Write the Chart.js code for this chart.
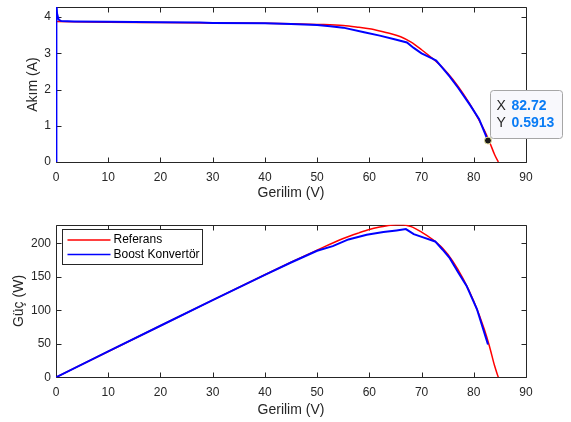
<!DOCTYPE html>
<html>
<head>
<meta charset="utf-8">
<title>PV karakteristik</title>
<script src="https://cdn.jsdelivr.net/npm/chart.js@4/dist/chart.umd.min.js"></script>
<style>
  html, body { margin: 0; padding: 0; background: #fff; }
  #wrap { position: relative; width: 571px; height: 422px; }
  canvas { position: absolute; left: 0; }
</style>
</head>
<body>
<div id="wrap">
  <canvas id="ivchart" width="571" height="211" style="top:0"></canvas>
  <canvas id="pvchart" width="571" height="211" style="top:211px"></canvas>
</div>
<script>
// reference (model) curve
const refVolt = [0, 10, 20, 30, 40, 45, 50, 55, 58, 60, 62, 64, 66, 68, 70, 72, 74, 76, 78, 80, 82, 83, 84, 84.7];
const refAmp  = [3.88, 3.86, 3.85, 3.84, 3.83, 3.82, 3.80, 3.77, 3.72, 3.68, 3.62, 3.55, 3.46, 3.31, 3.10, 2.87, 2.61, 2.28, 1.88, 1.42, 0.88, 0.56, 0.20, 0];
const refPow  = [0, 38.6, 77, 115.2, 153.2, 171.9, 190, 207.4, 215.8, 220.8, 224.4, 227.2, 228.4, 225.1, 217, 206.6, 193.1, 173.3, 146.6, 113.6, 72.2, 46.5, 16.8, 0];

// boost converter measurement
const boostVolt = [0, 0.05, 0.1, 0.2, 0.5, 1, 3.5, 10, 20, 27.5, 30, 40, 45, 50, 52.5, 55, 59, 62, 65, 67.2, 68.5, 70, 72, 72.8, 74, 75.4, 77, 79.3, 81, 82.72];
const boostAmp  = [0, 2.0, 4.4, 4.1, 3.93, 3.89, 3.88, 3.87, 3.86, 3.85, 3.84, 3.83, 3.81, 3.78, 3.75, 3.71, 3.58, 3.49, 3.38, 3.30, 3.15, 3.00, 2.86, 2.80, 2.60, 2.36, 2.05, 1.57, 1.19, 0.5913];
const boostPVolt = [0, 10, 20, 30, 40, 45, 50, 53, 56, 59.5, 62.7, 65.2, 67, 68.5, 70.3, 72.6, 74, 75.4, 77, 78.6, 80.6, 82.72];
const boostPow   = [0, 38.6, 77, 115.3, 153, 171.5, 189, 196, 206, 213, 217, 219.5, 221.5, 214, 209, 203, 191, 178, 157, 137, 102, 48.9];

const voltTicks = [0, 10, 20, 30, 40, 50, 60, 70, 80, 90];
const ampTicks = [0, 1, 2, 3, 4];
const powTicks = [0, 50, 100, 150, 200];

const tipVolt = 82.72;
const tipAmp = 0.5913;

const FONT = "'Liberation Sans', Arial, Helvetica, sans-serif";
const AX = '#262626';

function xy(xs, ys) {
  return xs.map((x, i) => ({ x: x, y: ys[i] }));
}

// box around the axes with inward ticks on all four sides
const boxAxes = {
  id: 'boxAxes',
  beforeDatasetsDraw(chart) {
    const { ctx, chartArea: a, scales: { x, y } } = chart;
    const L = Math.round(a.left) + 0.5, R = Math.round(a.right) + 0.5;
    const T = Math.round(a.top) + 0.5, B = Math.round(a.bottom) + 0.5;
    ctx.save();
    ctx.strokeStyle = AX;
    ctx.lineWidth = 1;
    ctx.beginPath();
    x.ticks.forEach(t => {
      const p = Math.round(x.getPixelForValue(t.value)) + 0.5;
      ctx.moveTo(p, B); ctx.lineTo(p, B - 5);
      ctx.moveTo(p, T); ctx.lineTo(p, T + 5);
    });
    y.ticks.forEach(t => {
      const p = Math.round(y.getPixelForValue(t.value)) + 0.5;
      ctx.moveTo(L, p); ctx.lineTo(L + 5, p);
      ctx.moveTo(R, p); ctx.lineTo(R - 5, p);
    });
    ctx.rect(L, T, R - L, B - T);
    ctx.stroke();
    ctx.restore();
  }
};

// data tip on the I-V curve
const dataTip = {
  id: 'dataTip',
  afterDraw(chart) {
    const { ctx, scales: { x, y } } = chart;
    const px = x.getPixelForValue(tipVolt);
    const py = y.getPixelForValue(tipAmp);
    const bx = Math.round(px + 2) + 0.5, by = Math.round(py - 51) + 0.5;
    const bw = 72, bh = 48;
    ctx.save();
    ctx.fillStyle = '#f8f8fc';
    ctx.strokeStyle = '#a6a6a6';
    ctx.lineWidth = 1;
    ctx.beginPath();
    ctx.roundRect(bx, by, bw, bh, 3);
    ctx.fill();
    ctx.stroke();
    ctx.textBaseline = 'middle';
    ctx.textAlign = 'left';
    ctx.font = '14px ' + FONT;
    ctx.fillStyle = AX;
    ctx.fillText('X', bx + 6, by + 16);
    ctx.fillText('Y', bx + 6, by + 33);
    ctx.font = 'bold 14px ' + FONT;
    ctx.fillStyle = '#0a7cf5';
    ctx.fillText(tipVolt.toFixed(2), bx + 21, by + 16);
    ctx.fillText(tipAmp.toFixed(4), bx + 21, by + 33);
    ctx.beginPath();
    ctx.arc(px, py, 3.5, 0, Math.PI * 2);
    ctx.fillStyle = '#1a1a1a';
    ctx.fill();
    ctx.strokeStyle = '#e8e4a0';
    ctx.stroke();
    ctx.restore();
  }
};

// legend box in the upper-left corner of the power plot
const boxLegend = {
  id: 'boxLegend',
  afterDraw(chart) {
    const { ctx, chartArea: a } = chart;
    const bx = Math.round(a.left + 6) + 0.5, by = Math.round(a.top + 4) + 0.5;
    const items = chart.data.datasets.slice().sort((p, q) => q.order - p.order);
    ctx.save();
    ctx.fillStyle = '#fff';
    ctx.strokeStyle = AX;
    ctx.lineWidth = 1;
    ctx.fillRect(bx, by, 140, 35);
    ctx.strokeRect(bx, by, 140, 35);
    ctx.font = '12px ' + FONT;
    ctx.textBaseline = 'middle';
    items.forEach((ds, i) => {
      const ly = by + 10.5 + i * 14.5;
      ctx.strokeStyle = ds.borderColor;
      ctx.lineWidth = 1.5;
      ctx.beginPath();
      ctx.moveTo(bx + 5, ly); ctx.lineTo(bx + 48, ly);
      ctx.stroke();
      ctx.fillStyle = '#000';
      ctx.fillText(ds.label, bx + 51, ly);
    });
    ctx.restore();
  }
};

function makeScales(yTicks, yMax, yTitle, yTitlePad, xHeight, xTitlePad) {
  return {
    x: {
      type: 'linear', min: 0, max: 90,
      grid: { display: false, drawTicks: false },
      border: { display: false },
      afterBuildTicks: s => { s.ticks = voltTicks.map(v => ({ value: v })); },
      afterFit: s => { s.height = xHeight; s.paddingLeft = 0; s.paddingRight = 0; },
      ticks: { color: AX, font: { family: FONT, size: 12 }, padding: 8, maxRotation: 0 },
      title: { display: true, text: 'Gerilim (V)', color: AX, font: { family: FONT, size: 14 }, padding: { top: 0, bottom: xTitlePad } }
    },
    y: {
      type: 'linear', min: 0, max: yMax,
      grid: { display: false, drawTicks: false },
      border: { display: false },
      afterBuildTicks: s => { s.ticks = yTicks.map(v => ({ value: v })); },
      afterFit: s => { s.width = 56; s.paddingTop = 0; s.paddingBottom = 0; },
      ticks: { color: AX, font: { family: FONT, size: 12 }, padding: 5 },
      title: { display: true, text: yTitle, color: AX, font: { family: FONT, size: 14 }, padding: { top: yTitlePad, bottom: 0 } }
    }
  };
}

function baseOptions(scales, pad) {
  return {
    responsive: false,
    animation: false,
    events: [],
    layout: { padding: pad },
    plugins: { legend: { display: false }, tooltip: { enabled: false } },
    elements: { point: { radius: 0 } },
    scales: scales
  };
}

new Chart(document.getElementById('ivchart'), {
  type: 'line',
  data: {
    datasets: [{
      label: 'Referans',
      data: xy(refVolt, refAmp),
      borderColor: '#ff0000',
      borderWidth: 1.5,
      cubicInterpolationMode: 'monotone',
      order: 2
    }, {
      label: 'Boost Konvertör',
      data: xy(boostVolt, boostAmp),
      borderColor: '#0000ff',
      borderWidth: 2,
      order: 1
    }]
  },
  options: baseOptions(makeScales(ampTicks, 4.28, 'Akım (A)', 25, 49, 9), { left: 0, right: 45, top: 7, bottom: 0 }),
  plugins: [boxAxes, dataTip]
});

new Chart(document.getElementById('pvchart'), {
  type: 'line',
  data: {
    datasets: [{
      label: 'Referans',
      data: xy(refVolt, refPow),
      borderColor: '#ff0000',
      borderWidth: 1.5,
      cubicInterpolationMode: 'monotone',
      order: 2
    }, {
      label: 'Boost Konvertör',
      data: xy(boostPVolt, boostPow),
      borderColor: '#0000ff',
      borderWidth: 2,
      order: 1
    }]
  },
  options: baseOptions(makeScales(powTicks, 228, 'Güç (W)', 11, 44.7, 3.6), { left: 0, right: 45, top: 13.7, bottom: 0 }),
  plugins: [boxAxes, boxLegend]
});
</script>
</body>
</html>
